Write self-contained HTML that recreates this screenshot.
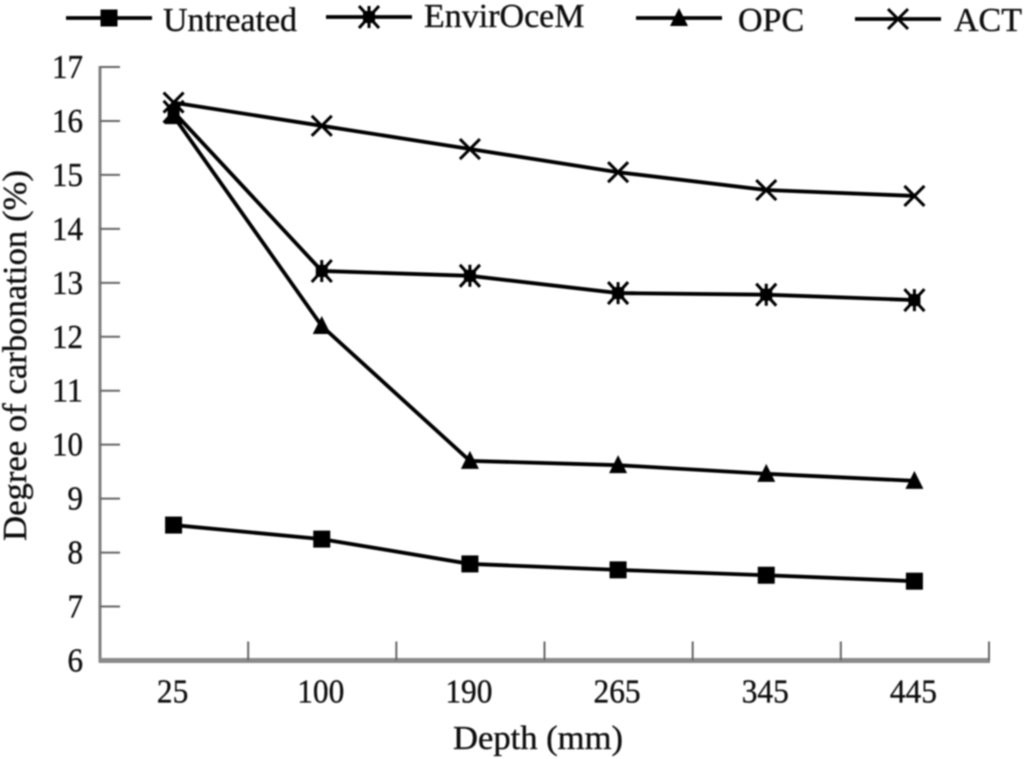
<!DOCTYPE html>
<html lang="en">
<head>
<meta charset="utf-8">
<title>Degree of carbonation vs depth</title>
<style>
html,body{margin:0;padding:0;background:#fff;}
svg{display:block;}
text{font-family:"Liberation Serif",serif;fill:#111;stroke:#111;stroke-width:0.35px;}
</style>
</head>
<body>
<svg id="chart" width="1024" height="759" viewBox="0 0 1024 759" xmlns="http://www.w3.org/2000/svg">
<defs><filter id="soft" x="-5%" y="-5%" width="110%" height="110%"><feGaussianBlur stdDeviation="0.8"/></filter></defs>
<g id="root" filter="url(#soft)"></g>
</svg>
<script>
const categories = ["25", "100", "190", "265", "345", "445"];
const yTicks = [6, 7, 8, 9, 10, 11, 12, 13, 14, 15, 16, 17];
const untreated = [8.51, 8.25, 7.79, 7.68, 7.58, 7.47];
const envirOceM = [16.17, 13.22, 13.13, 12.81, 12.78, 12.68];
const opc = [16.09, 12.2, 9.7, 9.62, 9.46, 9.33];
const act = [16.34, 15.91, 15.48, 15.05, 14.72, 14.61];
const seriesNames = ["Untreated", "EnvirOceM", "OPC", "ACT"];

const NS = "http://www.w3.org/2000/svg";
const root = document.getElementById("root");
const plotLeft = 100, plotRight = 989, plotBottom = 660.5, plotTop = 67;
const band = (plotRight - plotLeft) / categories.length;
function xScale(i) { return plotLeft + band * (i + 0.5) - 0.5; }
function yScale(v) { return plotBottom - (v - 6) * (plotBottom - plotTop) / 11; }
function make(tag, attrs, parent) {
  const el = document.createElementNS(NS, tag);
  for (const k in attrs) el.setAttribute(k, attrs[k]);
  (parent || root).appendChild(el);
  return el;
}
function drawMarker(kind, x, y, parent) {
  const ink = { stroke: "#000", "stroke-width": 3, fill: "none" };
  if (kind === "square") {
    make("rect", { x: x - 8.5, y: y - 8.5, width: 17, height: 17, fill: "#000" }, parent);
  } else if (kind === "triangle") {
    make("polygon", { points: `${x},${y - 10} ${x + 9},${y + 8} ${x - 9},${y + 8}`, fill: "#000" }, parent);
  } else if (kind === "x") {
    make("path", Object.assign({ d: `M${x - 10},${y - 10}L${x + 10},${y + 10}M${x + 10},${y - 10}L${x - 10},${y + 10}` }, ink), parent);
  } else {
    make("path", Object.assign({ d: `M${x - 10},${y - 11}L${x + 10},${y + 11}M${x + 10},${y - 11}L${x - 10},${y + 11}M${x},${y - 11}V${y + 11}` }, ink), parent);
    make("rect", { x: x - 6, y: y - 6, width: 12, height: 12, fill: "#000" }, parent);
  }
}

// axes
const yAxis = make("line", { x1: plotLeft, y1: plotTop - 1, x2: plotLeft, y2: plotBottom + 2, stroke: "#808080", "stroke-width": 3 });


const xAxis = make("line", { x1: plotLeft - 1, y1: plotBottom, x2: plotRight + 1, y2: plotBottom, stroke: "#8a8a8a", "stroke-width": 5 });



yTicks.forEach(function (t) {
  const y = yScale(t);
  if (t > 6) {
    const tick = make("line", { x1: plotLeft, y1: y, x2: plotLeft + 20, y2: y, stroke: "#666", "stroke-width": 2 });
    
    
  }
  const label = make("text", { x: 83, y: y + 11, "text-anchor": "end", "font-size": 34, textLength: String(t).length * 15.5, lengthAdjust: "spacingAndGlyphs" });
  label.textContent = t;
  
  
});

categories.forEach(function (c, i) {
  const tx = plotLeft + band * (i + 1);
  const tick = make("line", { x1: tx, y1: plotBottom, x2: tx, y2: plotBottom - 19, stroke: "#666", "stroke-width": 2 });
  
  
  const label = make("text", { x: xScale(i) - 1, y: 702.5, "text-anchor": "middle", "font-size": 34, textLength: c.length * 15.7, lengthAdjust: "spacingAndGlyphs" });
  label.textContent = c;
  
  
});

const xTitle = make("text", { x: 453, y: 749, "font-size": 34, textLength: 170, lengthAdjust: "spacingAndGlyphs" });
xTitle.textContent = "Depth (mm)";


const yTitle = make("text", { transform: "translate(26,541) rotate(-90)", "font-size": 34, textLength: 371, lengthAdjust: "spacingAndGlyphs" });
yTitle.textContent = "Degree of carbonation (%)";



// series
const seriesValues = [untreated, envirOceM, opc, act];
const markers = ["square", "asterisk", "triangle", "x"];
seriesValues.forEach(function (vals, s) {
  const g = make("g", {});
  
  
  const pts = vals.map(function (v, i) { return xScale(i) + "," + yScale(v); }).join(" ");
  make("polyline", { points: pts, fill: "none", stroke: "#000", "stroke-width": 3.8 }, g);
  vals.forEach(function (v, i) { drawMarker(markers[s], xScale(i), yScale(v), g); });
});

// legend
const legendX1 = [66, 326, 636, 855];
const legendY = [18, 17, 18, 19];
const legendText = [163, 424, 738, 954];
const legendBase = [31, 27, 31, 31];
seriesNames.forEach(function (name, s) {
  const g = make("g", {});
  
  
  make("line", { x1: legendX1[s], y1: legendY[s], x2: legendX1[s] + 86, y2: legendY[s], stroke: "#000", "stroke-width": 3.8 }, g);
  drawMarker(markers[s], legendX1[s] + 43, legendY[s], g);
  const t = make("text", { x: legendText[s], y: legendBase[s], "font-size": 34 }, g);
  t.textContent = name;
});
</script>
</body>
</html>
